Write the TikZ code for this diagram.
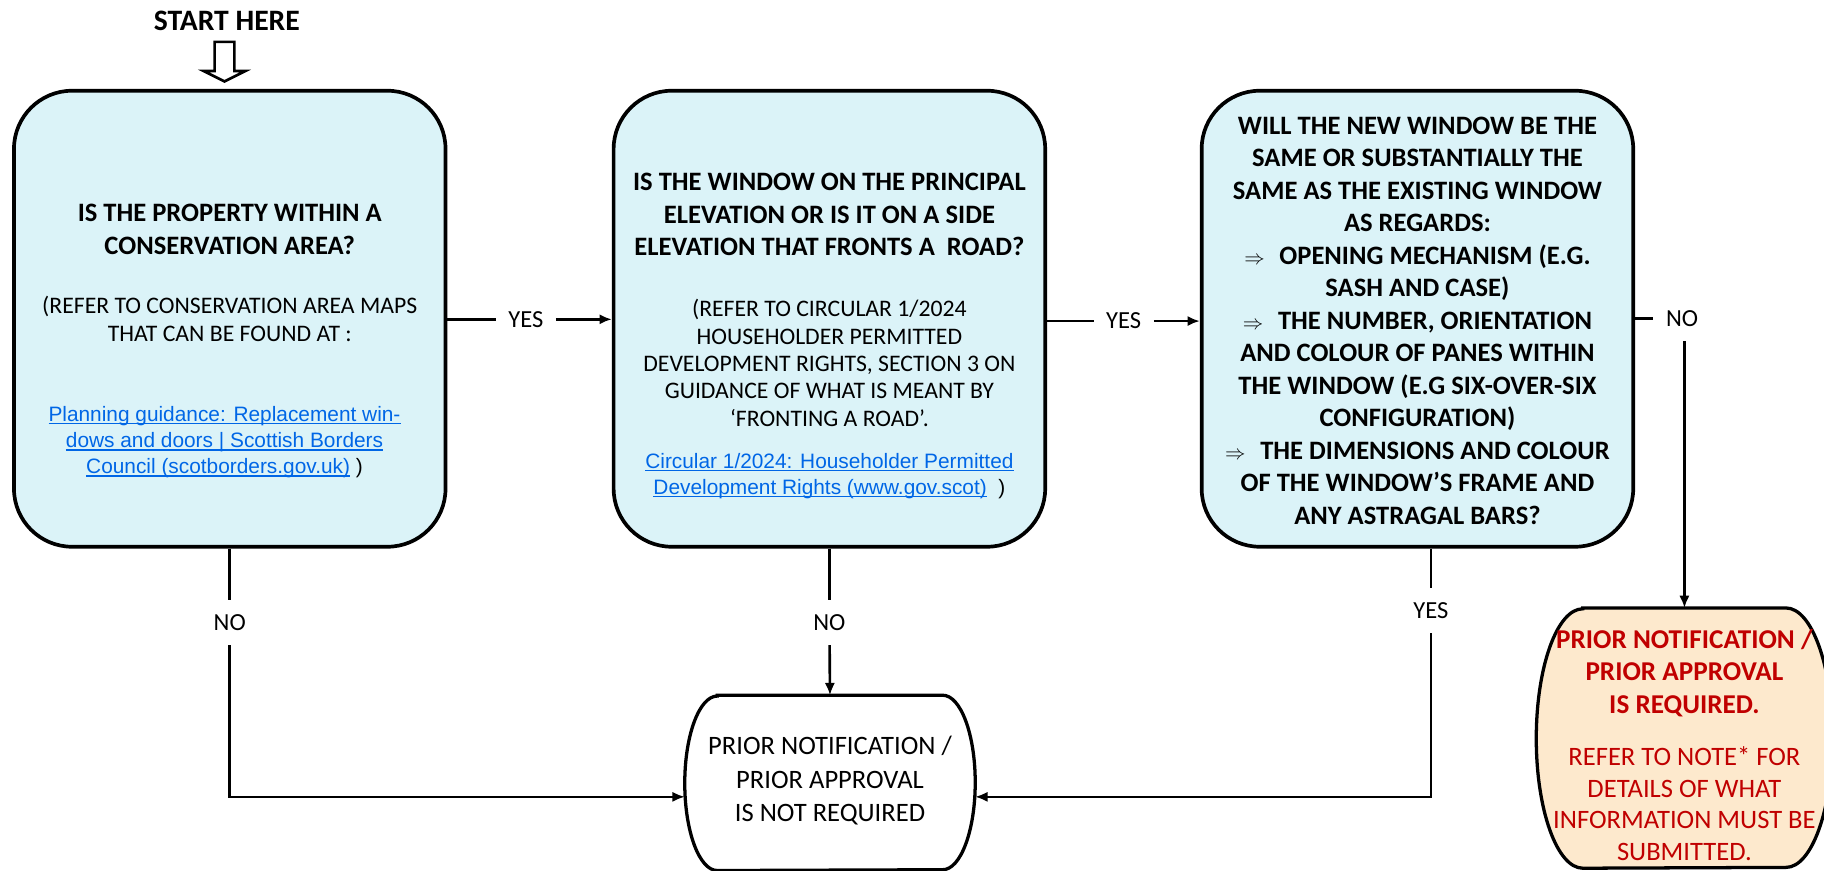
\documentclass[tikz,border=0pt]{standalone}
\usepackage{fontspec}
\setmainfont{Carlito}
\newfontfamily\linkfont{Liberation Sans}
\usetikzlibrary{calc,arrows.meta}

\definecolor{qfill}{RGB}{219,243,248}
\definecolor{reqfill}{RGB}{253,233,205}
\definecolor{reqred}{RGB}{192,0,0}
\definecolor{linkblue}{RGB}{0,102,230}

\newsavebox\lnkbox
\newcommand\titlefont{\fontsize{13}{15.9}\selectfont\bfseries}
\newcommand\notefont{\fontsize{11.6}{13.4}\selectfont}
\newcommand\linksize{\linkfont\fontsize{10.2}{12.8}\selectfont}
\newcommand\lnk[1]{\textcolor{linkblue}{\sbox\lnkbox{#1}%
  \rlap{\rule[-1.5pt]{\wd\lnkbox}{0.75pt}}\usebox\lnkbox}}
\newcommand\bul{{\normalfont\fontsize{10}{12}\selectfont$\Rightarrow$}\hspace{0.55em}}

\tikzset{
  qbox/.style={draw, line width=1.8pt, fill=qfill, rounded corners=10mm,
    minimum width=74.2mm, minimum height=78.4mm},
  qtext/.style={align=center, font=\titlefont},
  ntext/.style={align=center, font=\notefont},
  ltext/.style={align=center, font=\linksize},
  lbl/.style={font=\fontsize{12}{14}\selectfont, inner xsep=6pt, inner ysep=7pt},
  conn/.style={line width=1.3pt},
  arr/.style={conn, -{Latex[length=6pt,width=5pt]}},
  pill/.style={line width=1.6pt}
}

\begin{document}
\begin{tikzpicture}[x=0.2mm,y=0.2mm]
  \useasboundingbox (0,0) rectangle (1568,748);

  % start
  \node[font=\fontsize{14.5}{17}\selectfont\bfseries] (start) at (195,730) {START HERE};
  \draw[line width=1.3pt] (184.5,712) -- (184.5,687) -- (175,687) -- (193,678)
    -- (211,687) -- (201.5,687) -- (201.5,712) -- cycle;

  % question boxes
  \node[qbox] (q1) at (197.5,474) {};
  \node[qbox] (q2) at (713,474) {};
  \node[qbox] (q3) at (1218.5,474) {};

  \node[qtext] (q1t) at (197.5,551) {IS THE PROPERTY WITHIN A\\CONSERVATION AREA?};
  \node[ntext] (q1n) at (197.5,474) {(REFER TO CONSERVATION AREA MAPS\\THAT CAN BE FOUND AT :};
  \node[ltext] (q1l) at (193,368) {\lnk{Planning guidance: Replacement win-}\\
    \lnk{dows and doors | Scottish Borders}\\\lnk{Council (scotborders.gov.uk)} )};

  \node[qtext] (q2t) at (713,563.5) {IS THE WINDOW ON THE PRINCIPAL\\
    ELEVATION OR IS IT ON A SIDE\\ELEVATION THAT FRONTS A\ \ ROAD?};
  \node[ntext] (q2n) at (713,436) {(REFER TO CIRCULAR 1/2024\\HOUSEHOLDER PERMITTED\\
    DEVELOPMENT RIGHTS, SECTION 3 ON\\GUIDANCE OF WHAT IS MEANT BY\\‘FRONTING A ROAD’.};
  \node[ltext] (q2l) at (713,339) {\lnk{Circular 1/2024: Householder Permitted}\\
    \lnk{Development Rights (www.gov.scot)}\ \ )};

  \node[qtext] (q3t) at (1218.5,472.5) {WILL THE NEW WINDOW BE THE\\
    SAME OR SUBSTANTIALLY THE\\SAME AS THE EXISTING WINDOW\\AS REGARDS:\\
    \bul OPENING MECHANISM (E.G.\\SASH AND CASE)\\
    \bul THE NUMBER, ORIENTATION\\AND COLOUR OF PANES WITHIN\\
    THE WINDOW (E.G SIX-OVER-SIX\\CONFIGURATION)\\
    \bul THE DIMENSIONS AND COLOUR\\OF THE WINDOW’S FRAME AND\\ANY ASTRAGAL BARS?};

  % outcome boxes
  \node[minimum width=49.8mm, minimum height=30mm] (nr) at (713.5,75) {};
  \draw[pill, fill=white] ($(nr.north west)+(28,0)$) -- ($(nr.north east)+(-28,0)$)
    arc[start angle=90, end angle=-90, x radius=28, y radius=75]
    -- ($(nr.south west)+(28,0)$)
    arc[start angle=270, end angle=90, x radius=28, y radius=75] -- cycle;
  \node[align=center, font=\fontsize{13}{16.2}\selectfont] (nrt) at (713.5,77)
    {PRIOR NOTIFICATION /\\PRIOR APPROVAL\\IS NOT REQUIRED};

  \node[minimum width=50.8mm, minimum height=44.6mm] (req) at (1448,113.5) {};
  \draw[pill, fill=reqfill] ($(req.north west)+(40,0)$) -- ($(req.north east)+(-40,0)$)
    arc[start angle=90, end angle=-90, x radius=40, y radius=111.5]
    -- ($(req.south west)+(40,0)$)
    arc[start angle=270, end angle=90, x radius=40, y radius=111.5] -- cycle;
  \node[align=center, text=reqred, font=\fontsize{13.3}{15.8}\selectfont\bfseries] (reqt)
    at (1448,169.5) {PRIOR NOTIFICATION /\\PRIOR APPROVAL\\IS REQUIRED.};
  \node[align=center, text=reqred, font=\fontsize{13}{15.4}\selectfont] (reqn)
    at (1448,57) {REFER TO NOTE* FOR\\DETAILS OF WHAT\\INFORMATION MUST BE\\SUBMITTED.};

  % labels
  \node[lbl] (yes1) at (452,473.5) {YES};
  \node[lbl] (yes2) at (966,472) {YES};
  \node[lbl] (no3) at (1446,474) {NO};
  \node[lbl] (no1) at (197.5,213) {NO};
  \node[lbl] (no2) at (713,213) {NO};
  \node[lbl] (yes3) at (1230,223) {YES};

  % connectors
  \draw[conn] (q1.east |- yes1) -- (yes1);
  \draw[arr] (yes1) -- (q2.west |- yes1);
  \draw[conn] (q2.east |- yes2) -- (yes2);
  \draw[arr] (yes2) -- (q3.west |- yes2);
  \draw[conn] (q3.east |- no3) -- (no3);
  \draw[arr] (no3.south -| req.north) -- (req.north);
  \draw[conn] (q1.south) -- (no1);
  \draw[arr] (no1) |- ($(nr.west)+(0,-12)$);
  \draw[conn] (q2.south) -- (no2);
  \draw[arr] (no2) -- (nr.north);
  \draw[conn] (q3.south -| yes3) -- (yes3);
  \draw[arr] (yes3) |- ($(nr.east)+(0,-12)$);
\end{tikzpicture}
\end{document}
